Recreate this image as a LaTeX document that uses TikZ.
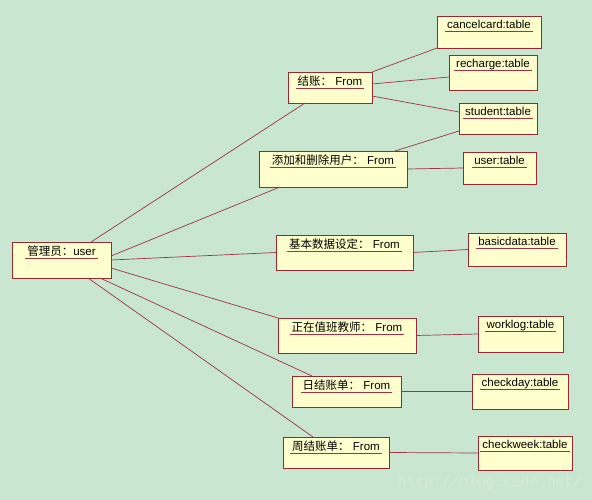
\documentclass[tikz,border=0pt]{standalone}
\usepackage{fontspec}
\setmainfont{Liberation Sans}
\newfontfamily\cjk{Noto Sans CJK SC}
\newfontfamily\wmfont{Liberation Mono}
\definecolor{bg}{RGB}{200,230,208}
\definecolor{boxfill}{RGB}{255,255,206}
\definecolor{boxdraw}{RGB}{150,40,50}
\definecolor{linec}{RGB}{160,50,70}
\definecolor{wmc}{RGB}{214,234,222}
\newsavebox\ulbox
\newcommand\ulbl[1]{\sbox\ulbox{#1}\rlap{\hspace{-2pt}\textcolor{linec}{\rule[-3pt]{\dimexpr\wd\ulbox+4pt\relax}{0.7pt}}}\usebox\ulbox}
\tikzset{
  obj/.style={draw=boxdraw, fill=boxfill, line width=0.8pt, inner sep=0pt, outer sep=0pt},
  lbl/.style={inner sep=0pt, anchor=north, yshift=-4pt, font=\fontsize{11.5}{13}\selectfont},
  conn/.style={draw=linec, line width=0.7pt}
}
\newcommand\objnode[6]{% name, cx, cy, w, h, text
  \node[obj, minimum width=#4pt, minimum height=#5pt,
        label={[lbl]north:\ulbl{#6}}] (#1) at (#2,#3) {};}
\begin{document}
\begin{tikzpicture}[x=1pt,y=-1pt]
\fill[bg] (0,0) rectangle (592,500);
\useasboundingbox (0,0) rectangle (592,500);
\node[font=\wmfont\fontsize{14.6}{16}\selectfont, text=wmc, inner sep=0pt] (wm) at (490,483) {http://blog.csdn.net/};

\objnode{mgr}{61.5}{260}{99}{36}{{\cjk 管理员：}user}
\objnode{jz}{330}{87.5}{84}{31}{{\cjk 结账：} From}
\objnode{cancel}{489}{32}{104}{32}{cancelcard:table}
\objnode{recharge}{493}{72.5}{88}{35}{recharge:table}
\objnode{student}{498}{118.5}{78}{31}{student:table}
\objnode{add}{333}{169}{148}{36}{{\cjk 添加和删除用户：} From}
\objnode{user}{499.5}{168}{73}{32}{user:table}
\objnode{basic}{344.5}{252.5}{137}{35}{{\cjk 基本数据设定：} From}
\objnode{basicdata}{517}{249.5}{98}{33}{basicdata:table}
\objnode{duty}{347}{335.5}{138}{35}{{\cjk 正在值班教师：} From}
\objnode{worklog}{520.5}{334}{85}{36}{worklog:table}
\objnode{day}{346.5}{391.5}{109}{31}{{\cjk 日结账单：} From}
\objnode{checkday}{520}{391.5}{96}{35}{checkday:table}
\objnode{week}{336}{452.5}{106}{31}{{\cjk 周结账单：} From}
\objnode{checkweek}{525}{453}{94}{34}{checkweek:table}

\begin{scope}[on background layer/.style={}]
\draw[conn] ([xshift=-20pt]mgr.north east) -- ([xshift=17pt]jz.south west);
\draw[conn] ([yshift=4pt]mgr.east) -- ([xshift=21pt]add.south west);
\draw[conn] (mgr.east) -- (basic.west);
\draw[conn] ([yshift=-8pt]mgr.east) -- (duty.north west);
\draw[conn] ([xshift=-11pt]mgr.south east) -- ([xshift=20pt]day.north west);
\draw[conn] ([xshift=-23pt]mgr.south east) -- ([xshift=30pt]week.north west);
\draw[conn] (jz.north east) -- (cancel.south west);
\draw[conn] ([yshift=3.5pt]jz.east) -- ([yshift=-4.5pt]recharge.west);
\draw[conn] ([yshift=-8.5pt]jz.east) -- ([yshift=6.5pt]student.west);
\draw[conn] ([xshift=-12pt]add.north east) -- ([yshift=3pt]student.south west);
\draw[conn] (add.east) -- (user.west);
\draw[conn] (basic.east) -- (basicdata.west);
\draw[conn] (duty.east) -- (worklog.west);
\draw[conn] (day.east) -- (checkday.west);
\draw[conn] (week.east) -- (checkweek.west);
\end{scope}
\end{tikzpicture}
\end{document}
